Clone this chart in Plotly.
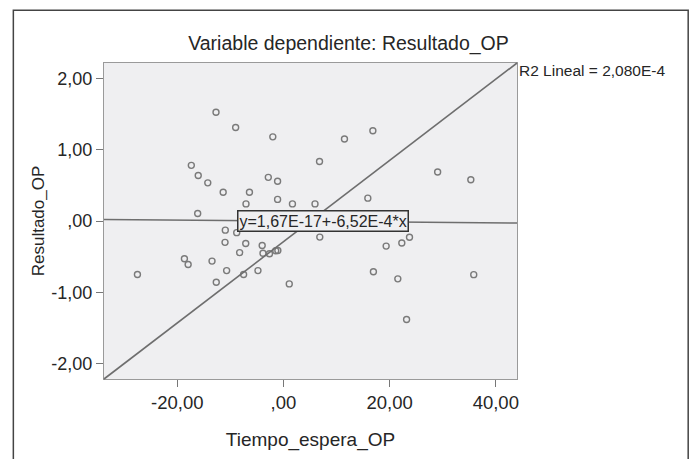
import plotly.graph_objects as go

# Data
tiempo_espera = [-12.7, -9.0, -2.0, 11.5, 16.85, 6.8, -17.35, -16.05, -14.25, -2.85, -1.1,
                 -11.35, -6.4, -7.05, -1.1, 1.7, 5.95, 15.9, 29.05, 35.3, -16.15, -10.95,
                 -8.8, -11.0, -7.1, -4.0, -8.25, -3.85, -2.63, -1.45, -1.05, 6.85, -18.65,
                 -17.95, -13.45, -10.7, -7.5, -4.8, -12.65, -27.5, 1.1, 19.35, 22.3, 23.75,
                 16.95, 21.55, 35.85, 23.2]
resultado = [1.525, 1.31, 1.18, 1.15, 1.265, 0.835, 0.78, 0.638, 0.535, 0.612, 0.557,
             0.403, 0.403, 0.24, 0.303, 0.24, 0.24, 0.32, 0.686, 0.578, 0.106, -0.128,
             -0.163, -0.299, -0.315, -0.343, -0.443, -0.452, -0.46, -0.417, -0.413, -0.226,
             -0.529, -0.61, -0.562, -0.695, -0.749, -0.695, -0.858, -0.749, -0.882, -0.352,
             -0.308, -0.227, -0.711, -0.811, -0.752, -1.381]

x_range = [-33.8, 44.0]
y_range = [-2.215, 2.215]
intercept = 1.67e-17
slope = -6.52e-4

x_tickvals = [-20, 0, 20, 40]
x_ticktext = ["-20,00", ",00", "20,00", "40,00"]
y_tickvals = [2, 1, 0, -1, -2]
y_ticktext = ["2,00", "1,00", ",00", "-1,00", "-2,00"]

title_text = "Variable dependiente: Resultado_OP"
x_title = "Tiempo_espera_OP"
y_title = "Resultado_OP"
eq_text = "y=1,67E-17+-6,52E-4*x"
r2_text = "R2 Lineal = 2,080E-4"

FONT = "Liberation Sans, Arial, sans-serif"
TXT = "#262626"
LINE = "#6e6e6e"

fig = go.Figure()

# fitted regression line
fig.add_trace(go.Scatter(
    x=x_range,
    y=[intercept + slope * v for v in x_range],
    mode="lines",
    line=dict(color=LINE, width=1.5),
    hoverinfo="skip",
    showlegend=False,
))

fig.add_trace(go.Scatter(
    x=tiempo_espera, y=resultado, mode="markers",
    marker=dict(symbol="circle-open", size=6, color="#7a7a7a", line=dict(width=1.4)),
    showlegend=False,
))

# diagonal reference line corner to corner
fig.add_shape(type="line", xref="x domain", yref="y domain", x0=0, y0=0, x1=1, y1=1,
              line=dict(color=LINE, width=1.6))

# outer frame
fig.add_shape(type="rect", xref="paper", yref="paper",
              x0=-0.2195, x1=1.4145, y0=-0.3, y1=1.167,
              line=dict(color="#444444", width=1.5), layer="below")

fig.add_annotation(x=7.45, y=0.0, xref="x", yref="y", text=eq_text, showarrow=False,
                   font=dict(family=FONT, size=16, color=TXT),
                   bgcolor="#efeff1", bordercolor="#333333", borderwidth=1.5, borderpad=1,
                   xanchor="center", yanchor="middle")

fig.add_annotation(x=1, y=0.975, xref="paper", yref="paper", text=r2_text, showarrow=False,
                   font=dict(family=FONT, size=15.5, color=TXT), xanchor="left", yanchor="middle",
                   xshift=0)

fig.update_layout(
    width=693, height=459,
    margin=dict(l=103.5, r=175.7, t=62.7, b=74.5),
    paper_bgcolor="white",
    plot_bgcolor="#efeff1",
    font=dict(family=FONT, color=TXT),
    title=dict(text=title_text, x=0.592, xref="paper", xanchor="center",
               y=1 - 43 / 459, yanchor="middle",
               font=dict(family=FONT, size=19.5, color=TXT)),
    xaxis=dict(range=x_range, tickvals=x_tickvals, ticktext=x_ticktext,
               showgrid=False, zeroline=False, showline=True, mirror=True,
               linecolor="#9a9a9a", linewidth=1.2,
               ticks="outside", ticklen=7, tickcolor="#777777",
               tickfont=dict(family=FONT, size=18.5, color=TXT),
               title=dict(text=x_title, font=dict(family=FONT, size=19, color=TXT), standoff=20)),
    yaxis=dict(range=y_range, tickvals=y_tickvals, ticktext=y_ticktext,
               showgrid=False, zeroline=False, showline=True, mirror=True,
               linecolor="#9a9a9a", linewidth=1.2,
               ticks="outside", ticklen=7, tickcolor="#777777",
               tickfont=dict(family=FONT, size=18, color=TXT),
               title=dict(text=y_title, font=dict(family=FONT, size=17, color=TXT), standoff=2)),
)

fig.write_html("out.html")
